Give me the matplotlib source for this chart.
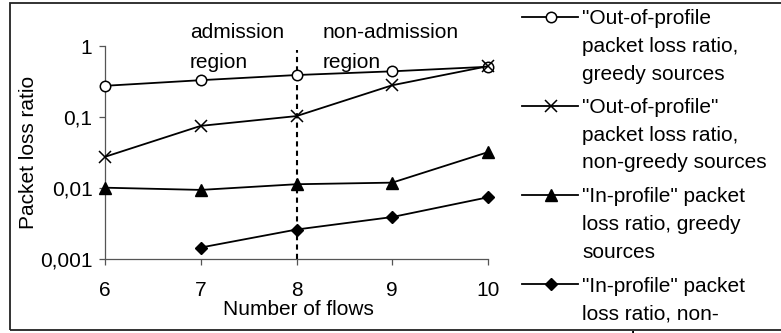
import matplotlib
matplotlib.use("Agg")
import matplotlib.pyplot as plt
from matplotlib.lines import Line2D
from matplotlib.patches import Rectangle
from matplotlib.ticker import FixedLocator, FixedFormatter, NullLocator

plt.rcParams['font.family'] = ['Liberation Sans', 'DejaVu Sans']
FS = 15

# data
flows = [6, 7, 8, 9, 10]
out_greedy = [0.275, 0.33, 0.39, 0.44, 0.51]
out_nongreedy = [0.0275, 0.075, 0.103, 0.28, 0.52]
in_greedy = [0.0101, 0.0094, 0.0113, 0.0119, 0.032]
flows_in_ng = [7, 8, 9, 10]
in_nongreedy = [0.00145, 0.0026, 0.0039, 0.0074]

yticks = [0.001, 0.01, 0.1, 1]
ytick_labels = ["0,001", "0,01", "0,1", "1"]

labels = [
    ['"Out-of-profile', 'packet loss ratio,', 'greedy sources'],
    ['"Out-of-profile"', 'packet loss ratio,', 'non-greedy sources'],
    ['"In-profile" packet', 'loss ratio, greedy', 'sources'],
    ['"In-profile" packet', 'loss ratio, non-', 'greedy sources'],
]
styles = [
    dict(marker='o', markersize=7.5, markerfacecolor='white', markeredgewidth=1.1),
    dict(marker='x', markersize=9, markeredgewidth=1.1),
    dict(marker='^', markersize=8.5),
    dict(marker='D', markersize=6.5),
]

W, H = 781, 333
fig = plt.figure(figsize=(W / 100, H / 100), dpi=100)
ax = fig.add_axes([105 / W, 1 - 259 / H, 383 / W, 213 / H])

series = [(flows, out_greedy), (flows, out_nongreedy),
          (flows, in_greedy), (flows_in_ng, in_nongreedy)]
for (xs, ys), st in zip(series, styles):
    ax.plot(xs, ys, color='black', lw=1.3, markeredgecolor='black',
            **({'markerfacecolor': 'black'} | st), clip_on=False, zorder=3)

ax.set_yscale('log')
ax.set_ylim(0.001, 1)
ax.set_xlim(6, 10)
ax.yaxis.set_major_locator(FixedLocator(yticks))
ax.yaxis.set_major_formatter(FixedFormatter(ytick_labels))
ax.yaxis.set_minor_locator(NullLocator())
ax.set_xticks(flows)
ax.tick_params(axis='both', direction='out', length=4, width=0.9,
               color='#555555', labelsize=FS)
ax.tick_params(axis='y', pad=5)
ax.tick_params(axis='x', pad=12)
for s in ['top', 'right']:
    ax.spines[s].set_visible(False)
for s in ['left', 'bottom']:
    ax.spines[s].set_color('#555555')
    ax.spines[s].set_linewidth(0.9)

ax.set_xlabel("Number of flows", fontsize=FS, va='center')
ax.xaxis.set_label_coords(0.504, -0.235)
ax.set_ylabel("Packet loss ratio", fontsize=FS, va='center')
ax.yaxis.set_label_coords(-0.2, 0.5)

# boundary between regions
ax.axvline(8, ymin=0, ymax=0.98, color='black', lw=1.5, ls=(0, (2.5, 2)))

tr = ax.get_xaxis_transform()
for x0, lines in [(6.888, ["admission", "region"]),
                  (8.27, ["non-admission", "region"])]:
    for i, t in enumerate(lines):
        ax.text(x0, (259 - 31 - 30 * i) / 213, t, transform=tr, fontsize=FS,
                ha='left', va='center_baseline')

# legend drawn at the right, one entry per series
for k, (lab, st) in enumerate(zip(labels, styles)):
    yc = 1 - (17 + 89 * k) / H
    fig.add_artist(Line2D([522 / W, 578 / W], [yc, yc], color='black', lw=1.3))
    fig.add_artist(Line2D([551 / W], [yc], color='black', markeredgecolor='black',
                          **({'markerfacecolor': 'black'} | st)))
    for j, t in enumerate(lab):
        fig.text(582 / W, yc - 27.5 * j / H, t, fontsize=FS,
                 ha='left', va='center_baseline')

# outer frame
fig.add_artist(Rectangle((10 / W, 1 - 330 / H), 1.0, 327 / H, fill=False,
                         edgecolor='#222222', lw=1.3, transform=fig.transFigure))

fig.savefig("out.png", dpi=100)
